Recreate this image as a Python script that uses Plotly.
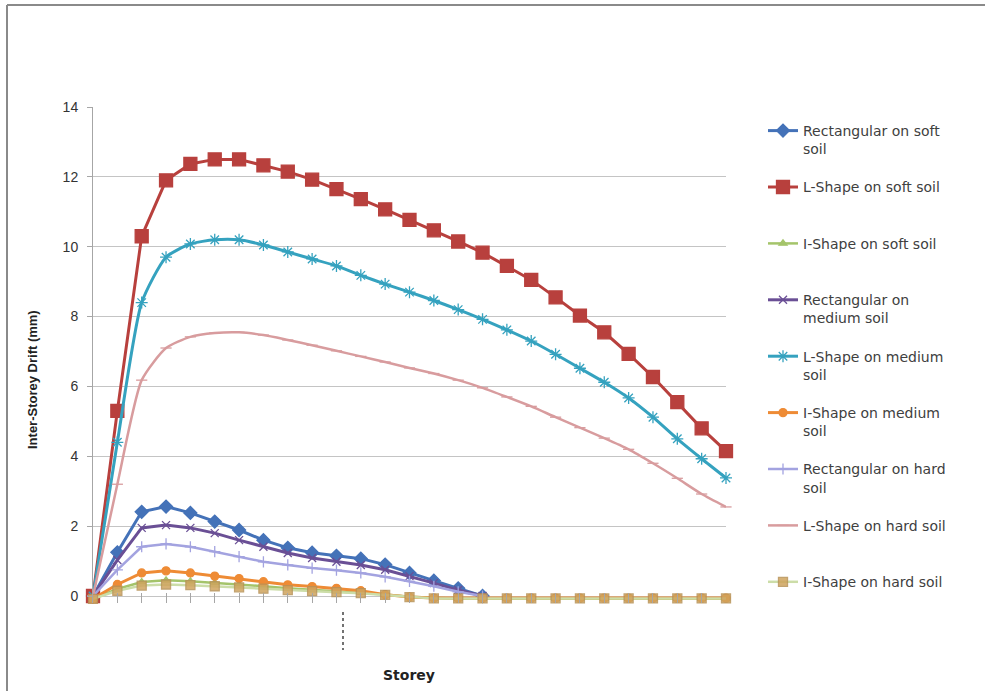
import plotly.graph_objects as go

# ---------------- data ----------------
storeys = list(range(0, 27))

rect_soft = [0, 1.25, 2.41, 2.56, 2.38, 2.13, 1.89, 1.6, 1.38, 1.24, 1.15, 1.07, 0.9, 0.66, 0.44, 0.22, 0.0]
l_soft = [0, 5.3, 10.3, 11.9, 12.37, 12.5, 12.5, 12.33, 12.15, 11.92, 11.65, 11.36, 11.07, 10.77,
          10.47, 10.15, 9.83, 9.45, 9.05, 8.55, 8.03, 7.55, 6.93, 6.27, 5.55, 4.8, 4.15]
i_soft = [-0.08, 0.2, 0.4, 0.45, 0.42, 0.38, 0.33, 0.28, 0.22, 0.18, 0.14, 0.1, 0.04, -0.02, -0.06,
          -0.08, -0.08, -0.08, -0.08, -0.08, -0.08, -0.08, -0.08, -0.08, -0.08, -0.08, -0.08]
rect_medium = [0, 1.03, 1.95, 2.03, 1.95, 1.8, 1.6, 1.41, 1.23, 1.09, 0.98, 0.89, 0.75, 0.57, 0.37, 0.17, 0.0]
l_medium = [0, 4.4, 8.4, 9.7, 10.08, 10.2, 10.2, 10.05, 9.85, 9.65, 9.45, 9.18, 8.93, 8.7, 8.46,
            8.2, 7.92, 7.62, 7.3, 6.92, 6.52, 6.12, 5.67, 5.12, 4.5, 3.93, 3.38]
i_medium = [-0.08, 0.33, 0.66, 0.72, 0.66, 0.57, 0.5, 0.41, 0.32, 0.27, 0.22, 0.15, 0.04, -0.03, -0.06,
            -0.06, -0.06, -0.06, -0.06, -0.06, -0.06, -0.06, -0.06, -0.06, -0.06, -0.06, -0.06]
rect_hard = [0, 0.75, 1.41, 1.49, 1.41, 1.27, 1.13, 0.98, 0.89, 0.8, 0.74, 0.66, 0.55, 0.42, 0.28, 0.12, 0.0]
l_hard = [0, 3.2, 6.18, 7.1, 7.42, 7.53, 7.55, 7.47, 7.33, 7.18, 7.02, 6.86, 6.7, 6.53, 6.37, 6.18,
          5.96, 5.7, 5.43, 5.12, 4.82, 4.52, 4.2, 3.8, 3.37, 2.92, 2.55]
i_hard = [-0.08, 0.15, 0.3, 0.33, 0.31, 0.28, 0.25, 0.21, 0.17, 0.14, 0.11, 0.08, 0.03, -0.03, -0.07,
          -0.07, -0.07, -0.07, -0.07, -0.07, -0.07, -0.07, -0.07, -0.07, -0.07, -0.07, -0.07]

y_ticks = [0, 2, 4, 6, 8, 10, 12, 14]

names = ["Rectangular on soft<br>soil", "L-Shape on soft soil<br>\u00a0", "I-Shape on soft soil<br>\u00a0",
         "Rectangular on<br>medium soil", "L-Shape on medium<br>soil", "I-Shape on medium<br>soil",
         "Rectangular on hard<br>soil", "L-Shape on hard soil<br>\u00a0", "I-Shape on hard soil"]

# ---------------- layout geometry (pixels) ----------------
W, H = 985, 691
L, R, T, B = 93, 726, 107, 603


def px_x(px):
    return (px - L) / (R - L)


def px_y(py):
    return (B - py) / (B - T)


fig = go.Figure()


def add(name, y, color, symbol, size, width, mcolor=None, mline=None, shape="linear", opacity=1.0):
    fig.add_trace(go.Scatter(
        x=storeys[:len(y)], y=y, name=name, mode="lines+markers",
        line=dict(color=color, width=width, shape=shape, smoothing=0.6),
        marker=dict(symbol=symbol, size=size, color=mcolor or color,
                    line=dict(color=mline or (mcolor or color), width=1.3), opacity=opacity),
        cliponaxis=False, legendgroup=name,
    ))


add(names[0], rect_soft, "#4472B8", "diamond", 10, 3)
add(names[1], l_soft, "#B8403D", "square", 13, 3)
add(names[2], i_soft, "#A4C46A", "triangle-up", 7, 2.5)
add(names[3], rect_medium, "#6A4F95", "x-thin-open", 8, 3, mline="#6A4F95")
add(names[4], l_medium, "#35A2BF", "asterisk-open", 10, 3, mline="#35A2BF", shape="spline")
add(names[5], i_medium, "#EE8B35", "circle", 8, 3)
add(names[6], rect_hard, "#A3A3E0", "cross-thin-open", 8, 2.5, mline="#A3A3E0")
add(names[7], l_hard, "#D89C9E", "line-ew-open", 8, 2.5, mline="#D89C9E", shape="spline")
add(names[8], i_hard, "#CCDDA8", "square", 9, 2.5, mcolor="#CFA45E", mline="#B89257", opacity=0.85)

shapes = [
    dict(type="line", xref="paper", yref="paper", x0=px_x(7), x1=px_x(985), y0=px_y(5), y1=px_y(5),
         line=dict(color="#8A8A8A", width=2)),
    dict(type="line", xref="paper", yref="paper", x0=px_x(7), x1=px_x(7), y0=px_y(5), y1=px_y(691),
         line=dict(color="#8A8A8A", width=2)),
    dict(type="line", xref="paper", yref="paper", x0=px_x(343), x1=px_x(343), y0=px_y(612), y1=px_y(650),
         line=dict(color="#444444", width=1.5, dash="dot")),
]

annotations = [
    dict(text="<b>Inter-Storey Drift (mm)</b>", xref="paper", yref="paper", x=px_x(32), y=px_y(380),
         textangle=-90, showarrow=False, font=dict(family="Liberation Sans", size=13, color="#222222"),
         xanchor="center", yanchor="middle"),
    dict(text="<b>Storey</b>", xref="paper", yref="paper", x=px_x(409), y=px_y(675),
         showarrow=False, font=dict(family="DejaVu Sans", size=14, color="#222222"),
         xanchor="center", yanchor="middle"),
]

fig.update_layout(
    width=W, height=H,
    margin=dict(l=L, r=W - R, t=T, b=H - B, pad=0),
    paper_bgcolor="white", plot_bgcolor="white",
    showlegend=True,
    legend=dict(x=px_x(763), y=px_y(115), xanchor="left", yanchor="top", maxheight=660,
                font=dict(family="DejaVu Sans", size=14, color="#404040"),
                valign="top", tracegroupgap=17, bgcolor="rgba(0,0,0,0)", traceorder="grouped"),
    shapes=shapes, annotations=annotations,
    xaxis=dict(range=[0, 26], showgrid=False, zeroline=False, showticklabels=False,
               ticks="inside", ticklen=10, tickcolor="#A6A6A6", tick0=0, dtick=1,
               showline=False),
    yaxis=dict(range=[-0.2, 14], tickvals=y_ticks, ticktext=[str(v) for v in y_ticks],
               showgrid=True, gridcolor="#C4C4C4", gridwidth=1, zeroline=False,
               showline=True, linecolor="#A6A6A6", linewidth=1,
               ticks="outside", ticklen=5, tickcolor="#A6A6A6", ticklabelstandoff=6,
               tickfont=dict(family="Liberation Sans", size=14, color="#333333")),
)

fig.write_html("out.html", config={"displayModeBar": False},
               post_script="document.body.style.margin='0';document.body.style.overflow='hidden';")
